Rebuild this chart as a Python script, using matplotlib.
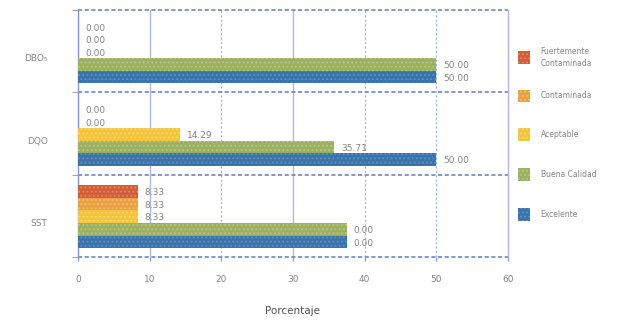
import numpy as np
import matplotlib
matplotlib.use("Agg")
import matplotlib.pyplot as plt
from matplotlib.patches import Rectangle

# data (categories bottom -> top)
categories = ["SST", "DQO", "DBO₅"]
series_names = ["Excelente", "Buena Calidad", "Aceptable", "Contaminada",
                "Fuertemente\nContaminada"]
excelente = [37.5, 50.0, 50.0]
buena = [37.5, 35.71, 50.0]
aceptable = [8.33, 14.29, 0.0]
contaminada = [8.33, 0.0, 0.0]
fuerte = [8.33, 0.0, 0.0]
# labels as printed on the chart
lab_excelente = ["0.00", "50.00", "50.00"]
lab_buena = ["0.00", "35.71", "50.00"]
lab_aceptable = ["8.33", "14.29", "0.00"]
lab_contaminada = ["8.33", "0.00", "0.00"]
lab_fuerte = ["8.33", "0.00", "0.00"]
x_ticks = [0, 10, 20, 30, 40, 50, 60]

values = [excelente, buena, aceptable, contaminada, fuerte]
labels = [lab_excelente, lab_buena, lab_aceptable, lab_contaminada, lab_fuerte]
colors = ["#3a74ab", "#9bb060", "#f3c33a", "#e9a142", "#cf5f36"]
hatch_colors = ["#5d93c4", "#b9c985", "#f9da7a", "#f2bd78", "#e08a68"]

plt.rcParams["hatch.linewidth"] = 0.8
fig = plt.figure(figsize=(6.2, 3.2), dpi=100)
ax = fig.add_axes([0.126, 0.197, 0.693, 0.772])

y = np.arange(len(categories))
h = 0.153
grey = "#858585"
for i, (vals, labs) in enumerate(zip(values, labels)):
    pos = y - 2 * h + i * h - 0.01
    ax.barh(pos, vals, height=h, color=colors[i], edgecolor=hatch_colors[i],
            linewidth=0, hatch="....", zorder=3)
    for p, v, t in zip(pos, vals, labs):
        ax.annotate(t, (v, p), xytext=(5, -1), textcoords="offset points",
                    va="center", ha="left", fontsize=6.5, color=grey, zorder=4)

ax.set_xlim(0, 60)
ax.set_ylim(-0.5, len(categories) - 0.5)
ax.set_xticks(x_ticks)
ax.set_xticklabels([str(t) for t in x_ticks], fontsize=6.5, color=grey)
ax.set_yticks(y - 0.08)
ax.set_yticklabels(categories, fontsize=6.5, color=grey)
ax.tick_params(axis="y", length=0, pad=22)
ax.tick_params(axis="x", length=3, color="#8090d0", pad=10)
ax.set_yticks(np.arange(-0.5, len(categories), 1), minor=True)
ax.tick_params(axis="y", which="minor", length=4, color="#8090d0")

solid_grid = [10, 30]
for xv in x_ticks[1:-1]:
    if xv in solid_grid:
        ax.axvline(xv, color="#b4b4e4", lw=1.0, zorder=1)
    else:
        ax.axvline(xv, color="#8fb8e4", lw=0.8, ls=(0, (2, 2)), zorder=1)
for yv in np.arange(-0.5, len(categories), 1):
    ax.axhline(yv, color="#6c86c8", lw=1.2, ls=(0, (2.5, 1.5)), zorder=2,
               clip_on=False)

for s in ["top", "bottom"]:
    ax.spines[s].set_visible(False)
ax.spines["left"].set_color("#8595d4")
ax.spines["right"].set_color("#b4b4e4")
ax.spines["left"].set_linewidth(1.0)
ax.spines["right"].set_linewidth(1.0)

ax.set_xlabel("Porcentaje", fontsize=7.5, color="#505050", labelpad=16)

# legend on the right, top to bottom
leg_y = [0.82, 0.70, 0.58, 0.455, 0.33]
for k, ly in zip(range(4, -1, -1), leg_y):
    fig.patches.append(Rectangle((0.836, ly - 0.02), 0.019, 0.04,
                                 transform=fig.transFigure,
                                 facecolor=colors[k], edgecolor=hatch_colors[k],
                                 linewidth=0, hatch="...."))
    fig.text(0.872, ly, series_names[k], fontsize=5.5, color=grey,
             va="center", ha="left", linespacing=1.4)

fig.savefig("out.png", dpi=100)
